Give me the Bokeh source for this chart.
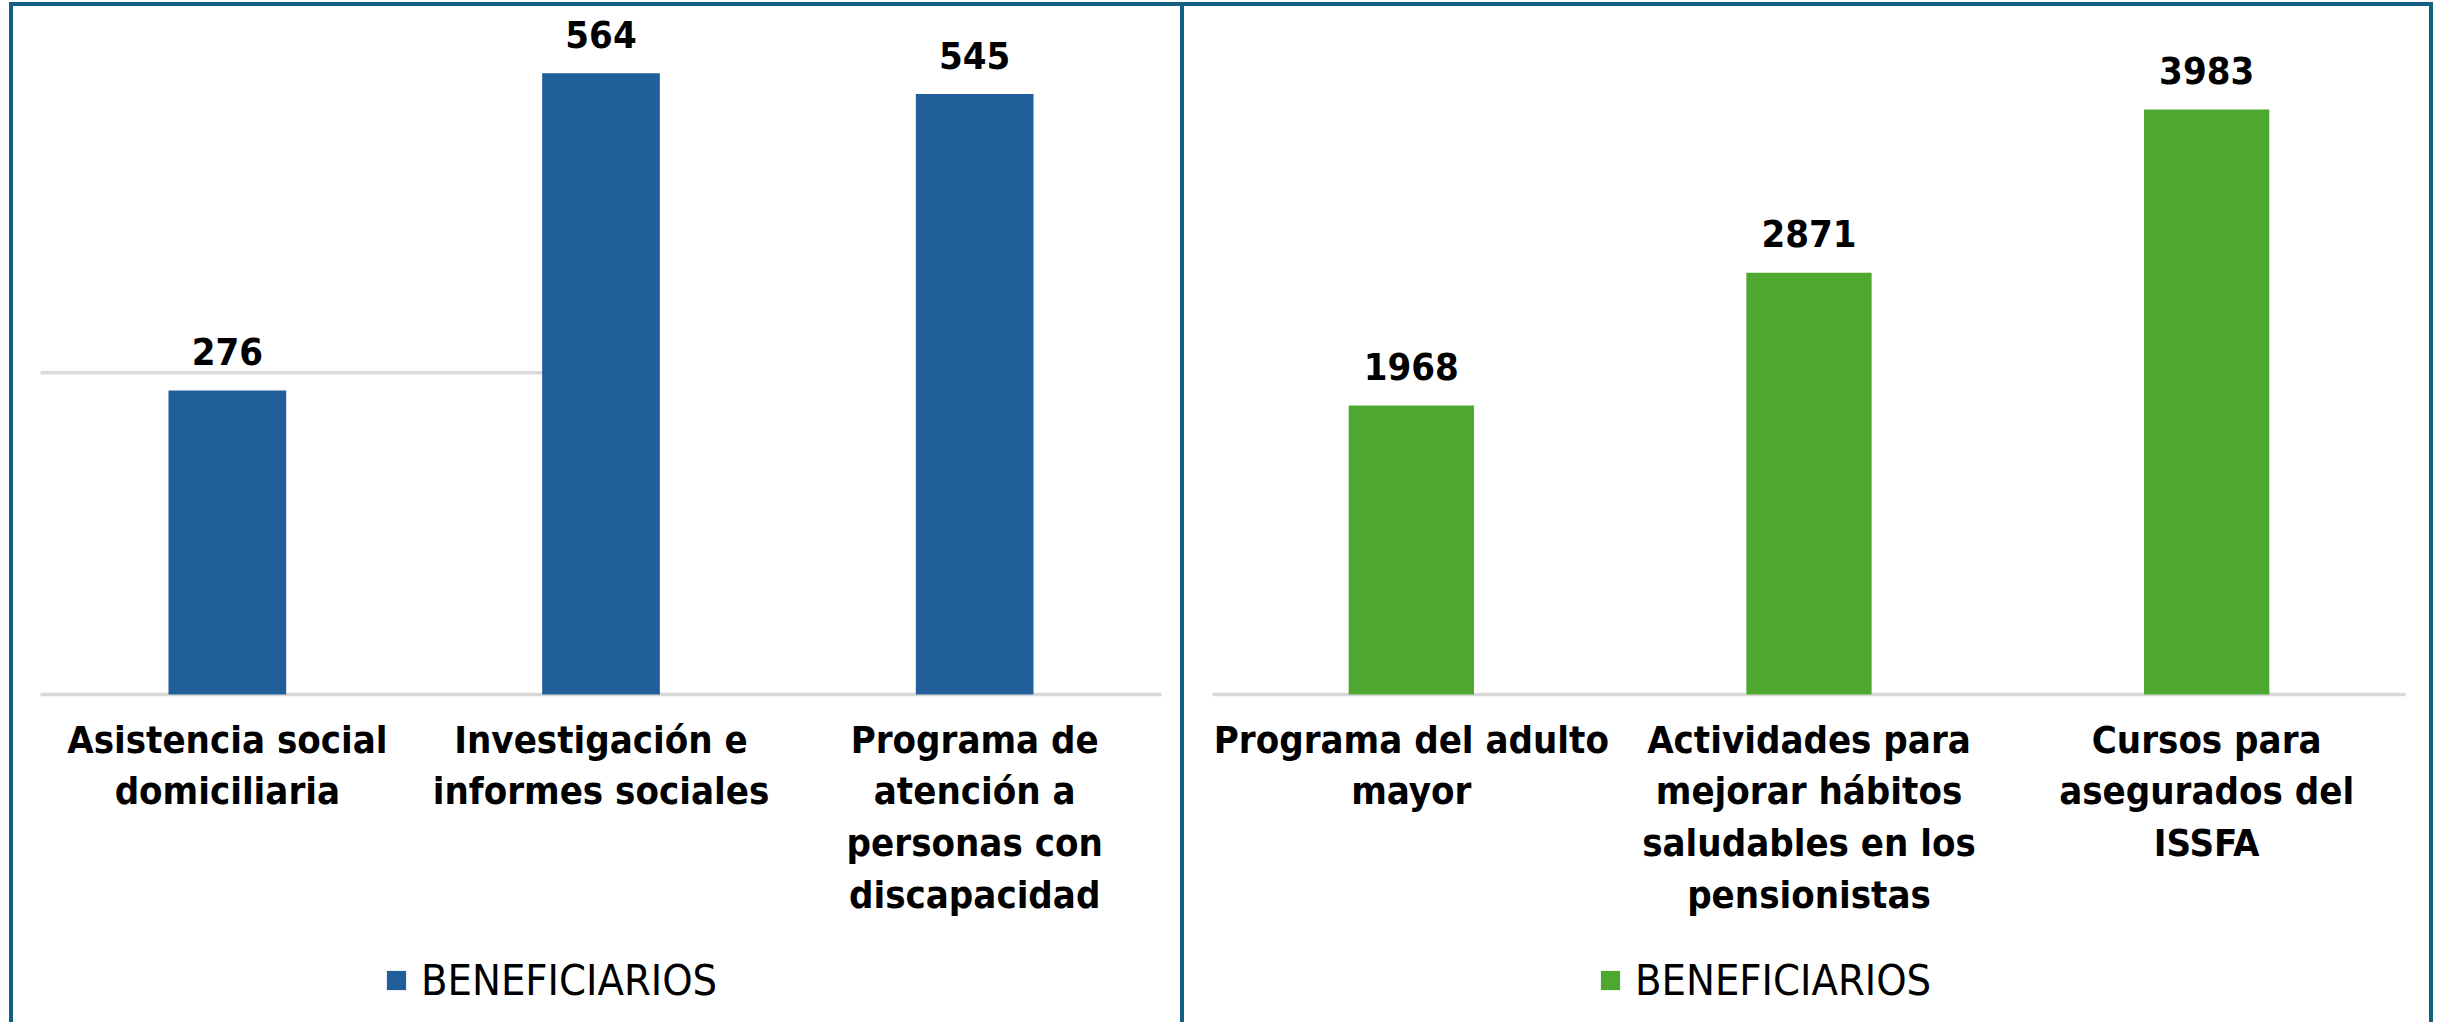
from bokeh.plotting import figure
from bokeh.models import Range1d, Legend, LegendItem, ColumnDataSource
from bokeh.layouts import row
from bokeh.embed import file_html
from bokeh.resources import INLINE
from bokeh.core.properties import value

# ---------------- data ----------------
left_categories = [
    "Asistencia social\ndomiciliaria",
    "Investigación e\ninformes sociales",
    "Programa de\natención a\npersonas con\ndiscapacidad",
]
left_values = [276, 564, 545]

right_categories = [
    "Programa del adulto\nmayor",
    "Actividades para\nmejorar hábitos\nsaludables en los\npensionistas",
    "Cursos para\nasegurados del\nISSFA",
]
right_values = [1968, 2871, 3983]

series_name = "BENEFICIARIOS"
left_axis_max = 600
right_axis_max = 4500
left_stray_gridline = 292   # light grey line visible at the left of the first chart

# ---------------- style / layout ----------------
FONT = "DejaVu Sans Condensed"
BLUE = "#215F9A"
GREEN = "#4EA72E"
BORDER = "#156082"
GRID = "#D9D9D9"

CANVAS_H = 1020      # px
PLOT_H = 661         # px from baseline to axis maximum
ABOVE = 688          # px from canvas top to baseline
BELOW = CANVAS_H - ABOVE


def panel(categories, values, color, ymax, canvas_w, pad_l, pad_r, styles,
          legend_x, stray=None):
    n = len(categories)
    px_per_cat = (canvas_w - pad_l - pad_r) / n
    p = figure(
        width=canvas_w, height=CANVAS_H,
        x_range=Range1d(-pad_l / px_per_cat, n + pad_r / px_per_cat),
        y_range=Range1d(-ymax * BELOW / PLOT_H, ymax * ABOVE / PLOT_H),
        output_backend="svg", toolbar_location=None,
        x_axis_location=None, y_axis_location=None,
        min_border_left=0, min_border_right=0,
        min_border_top=0, min_border_bottom=0,
    )
    p.styles = styles
    p.outline_line_color = None
    p.grid.visible = False
    p.background_fill_color = "white"
    p.border_fill_color = "white"

    xs = [i + 0.5 for i in range(n)]
    src = ColumnDataSource(dict(x=xs, top=values, cat=categories,
                                label=[str(v) for v in values]))

    if stray is not None:
        p.segment(x0=[0], x1=[1.5], y0=[stray], y1=[stray],
                  line_color=GRID, line_width=3.5)

    # category baseline
    p.segment(x0=[0], x1=[n], y0=[0], y1=[0], line_color=GRID, line_width=3.5)

    bars = p.vbar(x="x", top="top", width=0.315, source=src,
                  fill_color=color, line_color=None)

    # value labels
    p.text(x="x", y="top", text="label", source=src,
           text_align="center", text_baseline="alphabetic", y_offset=-39,
           text_font=value(FONT), text_font_style="bold",
           text_font_size="38px", text_color="black")

    # category labels
    p.text(x="x", y=0, text="cat", source=src,
           text_align="center", text_baseline="top", y_offset=23,
           text_font=value(FONT), text_font_style="bold",
           text_font_size="38px", text_color="black",
           text_line_height=1.18)

    legend = Legend(
        items=[LegendItem(label=series_name, renderers=[bars])],
        location=(legend_x, 21), orientation="horizontal",
        glyph_width=24, glyph_height=24, label_standoff=13,
        label_height=48, label_text_baseline="alphabetic",
        padding=0, margin=0, spacing=0,
        border_line_alpha=0, background_fill_alpha=0,
        label_text_font=FONT, label_text_font_size="43px",
        label_text_color="black",
    )
    p.add_layout(legend, "center")
    return p


b = f"4px solid {BORDER}"
p1 = panel(left_categories, left_values, BLUE, left_axis_max, 1175, 27, 27,
           {"border-top": b, "border-left": b, "border-right": b},
           371, stray=left_stray_gridline)
p2 = panel(right_categories, right_values, GREEN, right_axis_max, 1249, 28, 28,
           {"border-top": b, "border-right": b},
           414)

layout = row(p1, p2, styles={"margin-left": "9px", "margin-top": "2px"})
open("out.html", "w").write(file_html(layout, INLINE))
